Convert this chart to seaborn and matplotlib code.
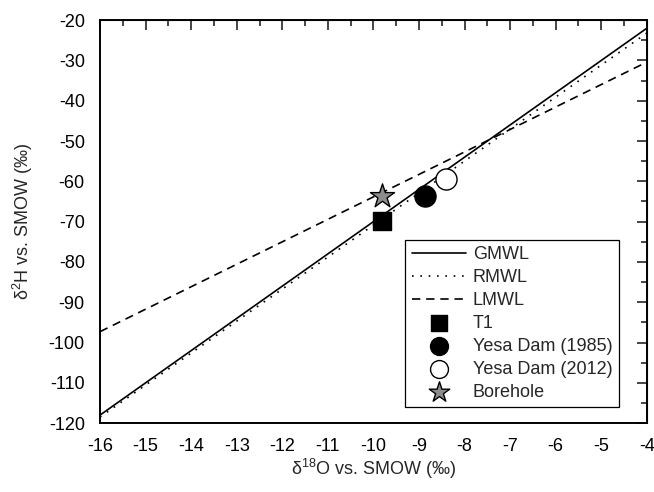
import matplotlib
matplotlib.use("Agg")
import matplotlib.pyplot as plt
import seaborn as sns
import pandas as pd
from matplotlib.ticker import MultipleLocator

# Meteoric water lines (end points)
line_x = [-16, -4]
gmwl_y = [-118.0, -22.0]
rmwl_y = [-118.5, -23.2]
lmwl_y = [-97.3, -30.4]

# Samples
sample_names = ["T1", "Yesa Dam (1985)", "Yesa Dam (2012)", "Borehole"]
sample_d18o = [-9.82, -8.87, -8.40, -9.82]
sample_d2h = [-69.8, -63.7, -59.3, -63.7]

x_ticks = list(range(-16, -3))
y_ticks = list(range(-120, -19, 10))

sns.set_style("white")
plt.rcParams['font.family'] = ['Liberation Sans', 'DejaVu Sans']
plt.rcParams['mathtext.fontset'] = 'custom'
plt.rcParams['mathtext.rm'] = 'Liberation Sans'
plt.rcParams['mathtext.it'] = 'Liberation Sans'
plt.rcParams['axes.unicode_minus'] = False

fig = plt.figure(figsize=(6.54, 4.92), dpi=100)
ax = fig.add_axes([0.153, 0.140, 0.836, 0.819])

lines = pd.DataFrame({"x": line_x * 3,
                      "y": gmwl_y + rmwl_y + lmwl_y,
                      "name": ["GMWL"] * 2 + ["RMWL"] * 2 + ["LMWL"] * 2})
styles = {"GMWL": "-", "RMWL": (0, (1, 4)), "LMWL": (0, (5, 3.5))}
for name in ["GMWL", "RMWL", "LMWL"]:
    d = lines[lines["name"] == name]
    sns.lineplot(data=d, x="x", y="y", ax=ax, color="black", lw=1.2,
                 linestyle=styles[name], label=name, sort=False)

markers = ["s", "o", "o", "*"]
faces = ["black", "black", "white", "#8c8c8c"]
sizes = [170, 230, 230, 330]
for n, xv, yv, m, fc, s in zip(sample_names, sample_d18o, sample_d2h, markers, faces, sizes):
    sns.scatterplot(x=[xv], y=[yv], ax=ax, marker=m, s=s, color=fc,
                    edgecolor="black", linewidth=1.0, label=n, zorder=5)

ax.set_xlim(-16, -4)
ax.set_ylim(-120, -20)
ax.set_xticks(x_ticks)
ax.set_yticks(y_ticks)
ax.xaxis.set_minor_locator(MultipleLocator(0.5))
ax.yaxis.set_minor_locator(MultipleLocator(5))
ax.tick_params(which="major", direction="out", length=7, width=1.2,
               labelsize=13, colors="black", top=False, right=False, pad=4)
ax.tick_params(which="minor", direction="out", length=4, width=1.2,
               top=False, right=False)

for spine in ax.spines.values():
    spine.set_linewidth(1.4)
    spine.set_color("black")

secx = ax.secondary_xaxis('top')
secx.set_xticks(x_ticks)
secx.xaxis.set_minor_locator(MultipleLocator(0.5))
secx.tick_params(which="major", direction="in", length=7, width=1.2, labeltop=False)
secx.tick_params(which="minor", direction="in", length=4, width=1.2)
secx.set_xticklabels([])
secy = ax.secondary_yaxis('right')
secy.set_yticks(y_ticks)
secy.yaxis.set_minor_locator(MultipleLocator(5))
secy.tick_params(which="major", direction="in", length=7, width=1.2, labelright=False)
secy.tick_params(which="minor", direction="in", length=4, width=1.2)
secy.set_yticklabels([])

ax.set_xlabel(r"$\mathrm{\delta^{18}}$O vs. SMOW (‰)", fontsize=13, labelpad=1)
ax.set_ylabel(r"$\mathrm{\delta^{2}}$H vs. SMOW (‰)", fontsize=13, labelpad=10)

leg = ax.legend(loc="lower right", bbox_to_anchor=(0.949, 0.04), borderaxespad=0,
                fontsize=13, frameon=True, fancybox=False, framealpha=1,
                edgecolor="black", handlelength=3.0, handletextpad=0.4,
                labelspacing=0.33, borderpad=0.35, markerscale=0.85)
leg.get_frame().set_linewidth(0.9)

fig.savefig("out.png", dpi=100)
